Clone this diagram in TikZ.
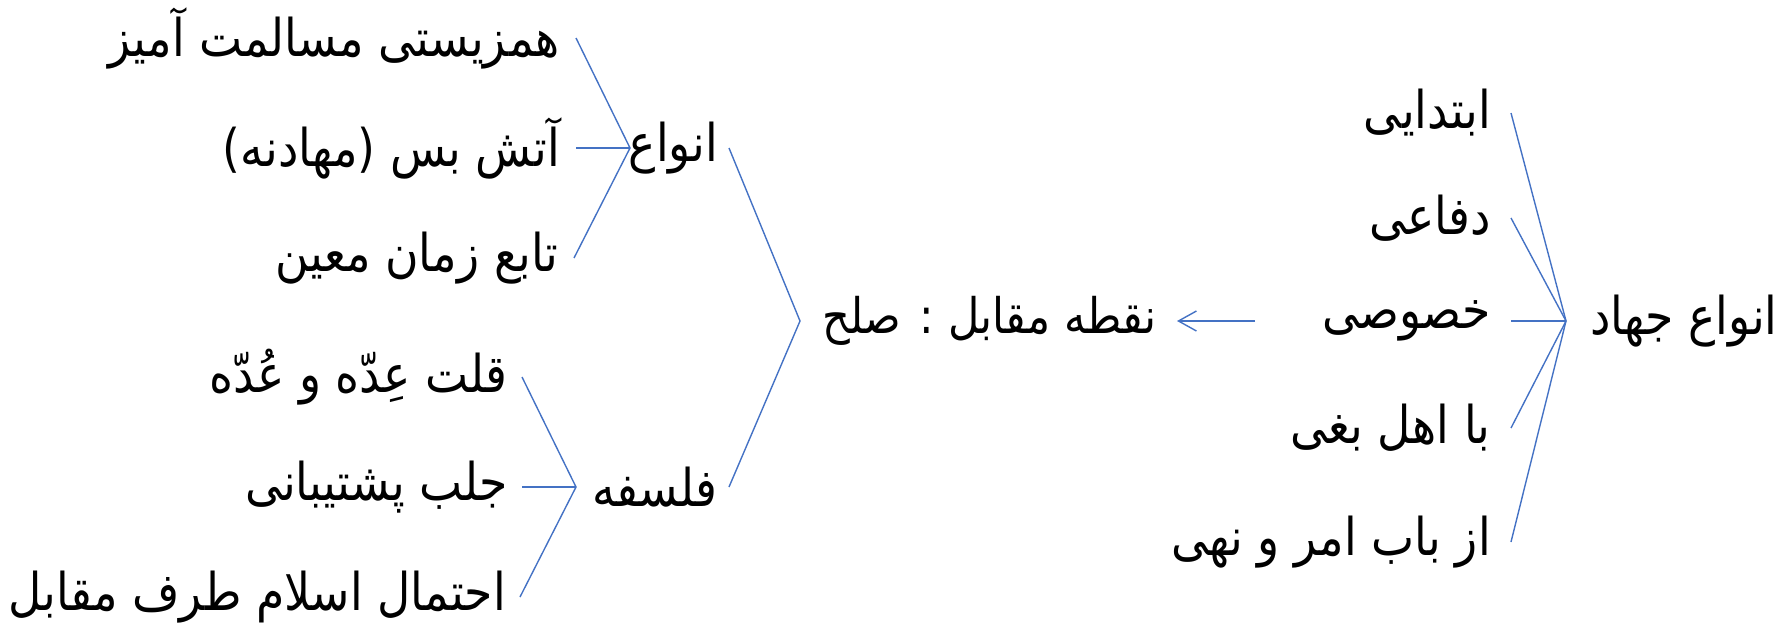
\documentclass[tikz,border=0pt]{standalone}
\usepackage{fontspec}
\usetikzlibrary{arrows.meta}
\TeXXeTstate=1
\newfontfamily\arabicfont[Script=Arabic,FakeStretch=0.88]{DejaVu Sans}
\definecolor{lineblue}{HTML}{4472C4}
\tikzset{
  txt/.style={font=\arabicfont\fontsize{52}{56}\selectfont, inner ysep=0pt, anchor=east},
  conn/.style={draw=lineblue, line width=1.4pt},
}
\newcommand{\rtl}[1]{\beginR #1\endR}
\begin{document}
\begin{tikzpicture}[x=1pt,y=-1pt]
\useasboundingbox (0,0) rectangle (1791,626);
% left upper cluster
\node[txt, inner xsep=16pt] (a1) at (576,38) {\rtl{همزیستی مسالمت آمیز}};
\node[txt, inner xsep=16pt] (a2) at (576,148) {\rtl{آتش بس (مهادنه)}};
\node[txt, inner xsep=16pt] (a3) at (574,258) {\rtl{تابع زمان معین}};
\node[txt, inner xsep=11pt] (anva) at (729,148) {\rtl{انواع}};
\coordinate (ap1) at (630,148);
% left lower cluster
\node[txt, inner xsep=14pt] (b1) at (522,377) {\rtl{قلت عِدّه و عُدّه}};
\node[txt, inner xsep=14pt] (b2) at (522,487) {\rtl{جلب پشتیبانی}};
\node[txt, inner xsep=14pt] (b3) at (520,597) {\rtl{احتمال اسلام طرف مقابل}};
\node[txt, inner xsep=11pt] (falsafe) at (729,487) {\rtl{فلسفه}};
\coordinate (ap2) at (576,487);
% center
\coordinate (ap3) at (800,321);
\node[txt, font=\arabicfont\fontsize{49}{53}\selectfont, inner xsep=20pt] (solh) at (1177,321) {\rtl{نقطه مقابل : صلح}};
\coordinate (arrstart) at (1255,321);
% right cluster
\node[txt, inner xsep=20pt] (c1) at (1511,113) {\rtl{ابتدایی}};
\node[txt, inner xsep=20pt] (c2) at (1511,218) {\rtl{دفاعی}};
\node[txt, inner xsep=20pt] (c3) at (1511,321) {\rtl{خصوصی}};
\node[txt, inner xsep=20pt] (c4) at (1511,428) {\rtl{با اهل بغی}};
\node[txt, inner xsep=20pt] (c5) at (1511,542) {\rtl{از باب امر و نهی}};
\node[txt, anchor=west, inner xsep=24pt] (jihad) at (1566,321) {\rtl{انواع جهاد}};
% connectors
\draw[conn] (a1.east) -- (ap1) -- (a3.east);
\draw[conn] (a2.east) -- (ap1);
\draw[conn] (b1.east) -- (ap2) -- (b3.east);
\draw[conn] (b2.east) -- (ap2);
\draw[conn] (anva.east) -- (ap3) -- (falsafe.east);
\draw[conn, -{Straight Barb[length=18pt,width=20pt]}] (arrstart) -- (solh.east);
\foreach \n in {c1,c2,c3,c4,c5} \draw[conn] (\n.east) -- (jihad.west);
\end{tikzpicture}
\end{document}
